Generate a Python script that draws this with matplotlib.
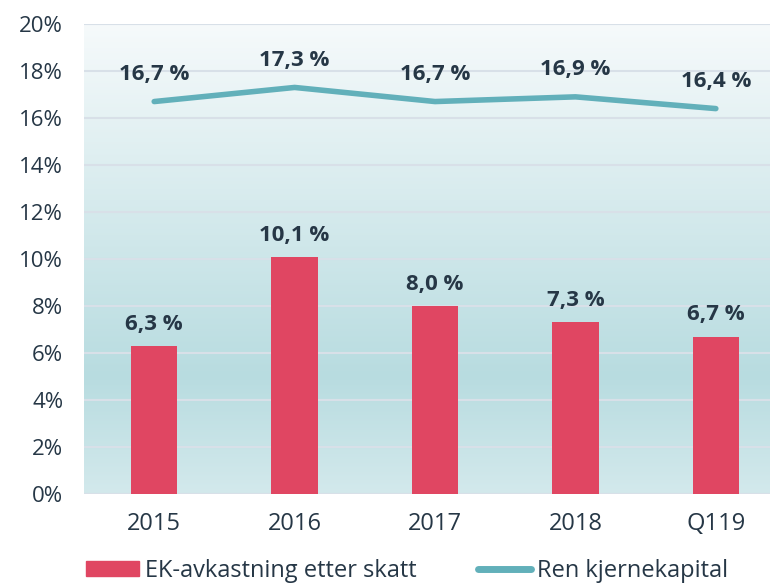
import numpy as np
import matplotlib
matplotlib.use("Agg")
import matplotlib.pyplot as plt
from matplotlib.colors import LinearSegmentedColormap
from matplotlib.patches import Patch
from matplotlib.lines import Line2D

categories = ["2015", "2016", "2017", "2018", "Q119"]
ek_avkastning = [6.3, 10.1, 8.0, 7.3, 6.7]
ren_kjernekapital = [16.7, 17.3, 16.7, 16.9, 16.4]
bar_labels = ["6,3 %", "10,1 %", "8,0 %", "7,3 %", "6,7 %"]
line_labels = ["16,7 %", "17,3 %", "16,7 %", "16,9 %", "16,4 %"]
yticks = [0, 2, 4, 6, 8, 10, 12, 14, 16, 18, 20]
ytick_labels = ["0%", "2%", "4%", "6%", "8%", "10%", "12%", "14%", "16%", "18%", "20%"]
legend_labels = ["EK-avkastning etter skatt", "Ren kjernekapital"]

text_color = "#263746"
bar_color = "#E04662"
line_color = "#62B0BA"
plt.rcParams["font.family"] = ["Open Sans", "DejaVu Sans"]

fig = plt.figure(figsize=(7.7, 5.86), dpi=100)
ax = fig.add_axes([84 / 770, 1 - 494 / 586, 1 - 84 / 770, (494 - 24) / 586])

# background gradient
cmap = LinearSegmentedColormap.from_list(
    "bg", [(0.0, "#D3E9EC"), (0.25, "#B8DCE0"), (1.0, "#F6FAFB")])
grad = np.linspace(0, 1, 256).reshape(-1, 1)
ax.imshow(grad, cmap=cmap, aspect="auto", origin="lower",
          extent=[0, 1, 0, 1], transform=ax.transAxes, zorder=0)

x = np.arange(len(categories))
ax.set_xlim(-0.5, 4.5 - 16 / 140)
ax.set_ylim(0, 20)

for yv in yticks:
    ax.axhline(yv, color="#D8E0E8", lw=1.5, zorder=1)

ax.bar(x, ek_avkastning, width=0.33, color=bar_color, zorder=2)
ax.plot(x, ren_kjernekapital, color=line_color, lw=4, solid_capstyle="round", zorder=3)

for xi, v, lab in zip(x, ek_avkastning, bar_labels):
    ax.annotate(lab, (xi, v), xytext=(0, 8), textcoords="offset points",
                ha="center", va="bottom", fontsize=16, fontweight="bold", color=text_color)
for xi, v, lab in zip(x, ren_kjernekapital, line_labels):
    ax.annotate(lab, (xi, v), xytext=(0, 12), textcoords="offset points",
                ha="center", va="bottom", fontsize=16, fontweight="bold", color=text_color)

ax.set_xticks(x)
ax.set_xticklabels(categories)
ax.set_yticks(yticks)
ax.set_yticklabels(ytick_labels)
ax.tick_params(axis="both", length=0, colors=text_color)
ax.tick_params(axis="y", pad=15, labelsize=16)
ax.tick_params(axis="x", pad=13, labelsize=17)
for s in ax.spines.values():
    s.set_visible(False)

handles = [Patch(facecolor=bar_color, edgecolor=bar_color),
           Line2D([0], [0], color=line_color, lw=5, solid_capstyle="round")]
fig.legend(handles, legend_labels, loc="center left", bbox_to_anchor=(86 / 770, 1 - 571 / 586),
           ncol=2, frameon=False, fontsize=17, handlelength=2.25, handleheight=0.62,
           handletextpad=0.25, columnspacing=2.6, borderpad=0, borderaxespad=0,
           labelcolor=text_color)

fig.savefig("out.png", dpi=100)
